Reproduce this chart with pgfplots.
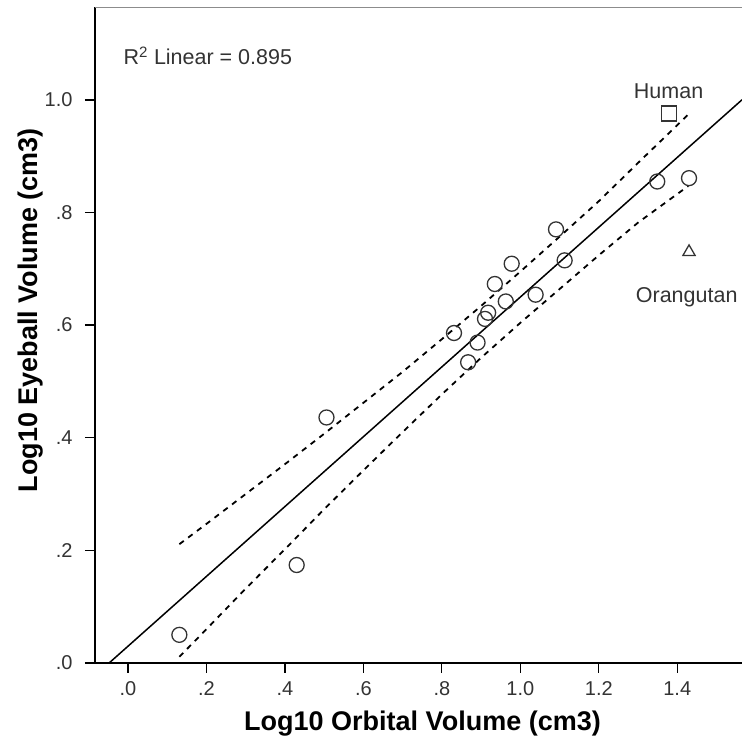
\documentclass[border=0pt]{standalone}
\usepackage{fontspec}
\setmainfont{Liberation Sans}
\usepackage{pgfplots}
\pgfplotsset{compat=1.18}

\definecolor{ink}{gray}{0.2}
\definecolor{frame}{gray}{0.55}

\begin{document}
\begin{tikzpicture}[x=1pt,y=1pt]
\begin{axis}[
  at={(0,0)}, anchor=south west,
  width=647pt, height=655.5pt, scale only axis,
  xmin=-0.084, xmax=1.565, ymin=0, ymax=1.164,
  axis x line=bottom, axis y line=left,
  axis line style={-, black, line width=1.3pt},
  tick align=outside, major tick length=10pt,
  tick style={black, line width=1.3pt},
  xtick={0,0.2,0.4,0.6,0.8,1.0,1.2,1.4},
  xticklabels={.0,.2,.4,.6,.8,1.0,1.2,1.4},
  ytick={0,0.2,0.4,0.6,0.8,1.0},
  yticklabels={.0,.2,.4,.6,.8,1.0},
  ticklabel style={font=\fontsize{20}{24}\selectfont, text=ink},
  xticklabel style={yshift=-5pt},
  yticklabel style={xshift=-9pt},
  /pgf/number format/assume math mode=true,
  xlabel={Log10 Orbital Volume (cm3)},
  ylabel={Log10 Eyeball Volume (cm3)},
  label style={font=\bfseries\fontsize{27}{30}\selectfont, text=black},
  x label style={at={(rel axis cs:0.5,0)}, anchor=center, yshift=-61pt, xshift=4pt},
  y label style={at={(rel axis cs:0,0.538)}, anchor=center, yshift=64pt},
  clip=true,
]
% fit line
\addplot[black, line width=1.5pt] coordinates {(-0.048,0) (1.565,1.0001)};
% confidence band
\addplot[black, line width=1.8pt, dash pattern=on 5.5pt off 5.5pt] coordinates {
  (0.131,0.211) (0.2,0.247) (0.3,0.300) (0.4,0.353) (0.5,0.407) (0.6,0.462)
  (0.7,0.517) (0.8,0.575) (0.9,0.634) (1.0,0.695) (1.1,0.757) (1.2,0.820)
  (1.3,0.888) (1.428,0.974)};
\addplot[black, line width=1.8pt, dash pattern=on 5.5pt off 5.5pt] coordinates {
  (0.131,0.011) (0.2,0.060) (0.3,0.132) (0.4,0.202) (0.5,0.273) (0.6,0.342)
  (0.7,0.410) (0.8,0.477) (0.9,0.542) (1.0,0.604) (1.1,0.664) (1.2,0.724)
  (1.3,0.782) (1.428,0.847)};
% species
\addplot[only marks, mark=o, mark size=7.5pt, mark options={ink, line width=1.3pt}] coordinates {
  (0.131,0.050) (0.430,0.174) (0.506,0.436) (0.831,0.586) (0.867,0.534)
  (0.891,0.569) (0.910,0.611) (0.918,0.622) (0.935,0.673) (0.963,0.642)
  (0.978,0.709) (1.039,0.654) (1.091,0.770) (1.113,0.715) (1.349,0.855)
  (1.430,0.861)};
\addplot[only marks, mark=square, mark size=7.5pt, mark options={ink, line width=1.3pt}] coordinates {(1.379,0.976)};
\addplot[only marks, mark=triangle, mark size=7pt, mark options={ink, line width=1.3pt}] coordinates {(1.430,0.730)};

\node[anchor=base west, font=\fontsize{21.5}{24}\selectfont, text=ink] at (axis cs:-0.020,1.062) {R\textsuperscript{2} Linear = 0.895};
\node[anchor=base, font=\fontsize{21.5}{24}\selectfont, text=ink] at (axis cs:1.378,1.002) {Human};
\node[anchor=base, font=\fontsize{21.5}{24}\selectfont, text=ink] at (axis cs:1.424,0.641) {Orangutan};
\end{axis}
\draw[frame, line width=1.6pt] (current axis.north west) -- (current axis.north east);
\pgfresetboundingbox
\path[use as bounding box] (-95,-93) rectangle (647,663);
\end{tikzpicture}
\end{document}
